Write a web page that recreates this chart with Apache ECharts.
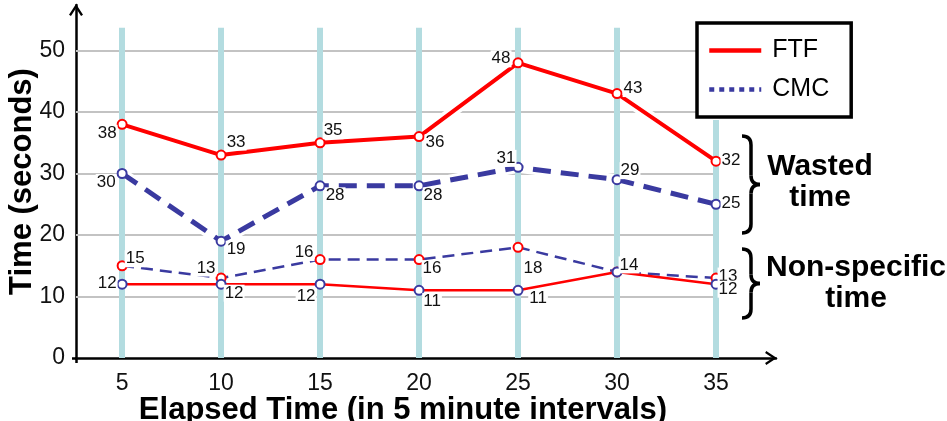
<!DOCTYPE html>
<html>
<head>
<meta charset="utf-8">
<script src="https://cdn.jsdelivr.net/npm/echarts@6/dist/echarts.min.js"></script>
<style>
  html, body { margin: 0; padding: 0; background: #fff; }
  #chart { width: 947px; height: 421px; }
</style>
</head>
<body>
<div id="chart"></div>
<script>
// Elapsed time points (minutes)
const minutes = [5, 10, 15, 20, 25, 30, 35];
// Y tick labels
const yTicks = [0, 10, 20, 30, 40, 50];

// Wasted time
const ftfWasted = [38, 33, 35, 36, 48, 43, 32];
const cmcWasted = [30, 19, 28, 28, 31, 29, 25];
// Non-specific time
const ftfNonSpecific = [15, 13, 16, 16, 18, 14, 13];
const cmcNonSpecific = [12, 12, 12, 11, 11, 14, 12];

// Label offsets (px) relative to each marker, per series
const ftfWastedLabelOff = [[-15, 9], [15, -13], [13, -12], [16, 6], [-17, -4], [16, -5], [15, -1]];
const cmcWastedLabelOff = [[-16, 9], [15, 8], [15, 10], [14, 10], [-12, -9], [13, -9], [15, -1]];
const ftfNonLabelOff = [[13, -7], [-15, -10], [-16, -7], [13, 9], [15, 21], [12, -7], [12, -2]];
const cmcNonLabelOff = [[-15, -1], [13, 9], [-14, 12], [13, 11], [20, 8], null, [12, 5]];

const RED = '#ff0000';
const BLUE = '#3a3aa0';
const BAR = '#b3dce0';
const FONT = '"Liberation Sans", Arial, sans-serif';

const X_MIN = 2.67, X_MAX = 38.03;
const Y_MAX = 57.4, BAR_TOP = 53.7, LAST_BAR_TOP = 38.7;

function points(values, offsets) {
  return values.map((v, i) => {
    const item = { value: [minutes[i], v] };
    const off = offsets[i];
    item.label = off
      ? { show: true, position: 'inside', offset: off }
      : { show: false };
    return item;
  });
}

const labelStyle = {
  fontFamily: FONT, fontSize: 17, color: '#111',
  backgroundColor: '#fff', padding: [0, 1]
};

function halo(values, width) {
  return {
    type: 'line', silent: true, z: 2, symbol: 'none',
    data: values.map((v, i) => [minutes[i], v]),
    lineStyle: { color: '#fff', width: width },
    emphasis: { disabled: true }, tooltip: { show: false }
  };
}

// curly brace "}" built from quadratic curves and straight strokes
function brace(x, y, h) {
  const m = h / 2, r = 9, w = 9, tip = 18;
  const st = { stroke: '#000', lineWidth: 3.5, fill: null };
  const q = (x1, y1, cx, cy, x2, y2) => ({
    type: 'bezierCurve',
    shape: { x1: x1, y1: y1, cpx1: cx, cpy1: cy, x2: x2, y2: y2 },
    style: st
  });
  const l = (x1, y1, x2, y2) => ({
    type: 'line', shape: { x1: x1, y1: y1, x2: x2, y2: y2 }, style: st
  });
  return {
    type: 'group', x: x, y: y, z: 10,
    children: [
      q(0, 0, w, 0, w, r),
      l(w, r, w, m - r),
      q(w, m - r, w, m, tip, m),
      q(tip, m, w, m, w, m + r),
      l(w, m + r, w, h - r),
      q(w, h - r, w, h, 0, h)
    ]
  };
}

const chart = echarts.init(document.getElementById('chart'), null, { renderer: 'canvas' });

const arrow = 'path://M5,0 L10,7.6 L8.6,8.4 L5,3 L1.4,8.4 L0,7.6 Z';

chart.setOption({
  animation: false,
  backgroundColor: '#fff',
  textStyle: { fontFamily: FONT },
  grid: { left: 76, right: 171, top: 5, bottom: 63, outerBoundsMode: 'none', containLabel: false },
  legend: {
    orient: 'vertical', left: 697, top: 23,
    backgroundColor: '#fff',
    borderColor: '#000', borderWidth: 3.5, borderRadius: 0,
    padding: [15, 22, 15, 10],
    itemWidth: 52, itemHeight: 22, itemGap: 14,
    textStyle: { fontFamily: FONT, fontSize: 25, color: '#000', padding: [0, 0, 0, 6] },
    itemStyle: { opacity: 0 },
    data: [
      { name: 'FTF', lineStyle: { color: RED, width: 4.5, type: 'solid' } },
      { name: 'CMC', lineStyle: { color: BLUE, width: 4.5, type: [5, 5] } }
    ]
  },
  xAxis: {
    type: 'value', min: X_MIN, max: X_MAX,
    axisLine: {
      show: true, onZero: false,
      lineStyle: { color: '#000', width: 2.5 },
      symbol: ['none', arrow], symbolSize: [14, 12], symbolOffset: [0, -5]
    },
    // short stub of the vertical axis below the origin
    axisTick: {
      show: true, customValues: [X_MIN], length: 5,
      lineStyle: { color: '#000', width: 2.5 }
    },
    splitLine: { show: false },
    axisLabel: {
      customValues: minutes, margin: 14,
      fontFamily: FONT, fontSize: 23, color: '#111'
    },
    name: 'Elapsed Time (in 5 minute intervals)',
    nameLocation: 'middle', nameGap: 37, nameMoveOverlap: false,
    nameTextStyle: {
      fontFamily: FONT, fontSize: 31, fontWeight: 'bold', color: '#000',
      padding: [0, 46, 0, 0]
    }
  },
  yAxis: {
    type: 'value', min: 0, max: Y_MAX,
    axisLine: {
      show: true, onZero: false,
      lineStyle: { color: '#000', width: 2.5 },
      symbol: ['none', arrow], symbolSize: [14, 12], symbolOffset: [0, -5]
    },
    // short stub of the horizontal axis left of the origin
    axisTick: {
      show: true, customValues: [0], length: 4,
      lineStyle: { color: '#000', width: 2.5 }
    },
    splitLine: { show: false },
    axisLabel: {
      customValues: yTicks, margin: 11,
      fontFamily: FONT, fontSize: 23, color: '#111'
    },
    name: 'Time (seconds)',
    nameLocation: 'middle', nameGap: 38, nameMoveOverlap: false,
    nameTextStyle: {
      fontFamily: FONT, fontSize: 31, fontWeight: 'bold', color: '#000'
    }
  },
  series: [
    // horizontal gridlines
    {
      type: 'line', data: [], silent: true, z: 1,
      markLine: {
        silent: true, symbol: 'none', z: 1, label: { show: false },
        lineStyle: { color: '#c3c3c3', width: 2, type: 'solid' },
        emphasis: { disabled: true },
        data: yTicks.filter(v => v > 0).map(v => [
          { coord: [X_MIN, v] }, { coord: [minutes[minutes.length - 1], v] }
        ])
      }
    },
    halo(ftfWasted, 11),
    halo(cmcWasted, 11),
    halo(ftfNonSpecific, 7),
    halo(cmcNonSpecific, 7),
    // vertical time bands
    {
      type: 'line', data: [], silent: true, z: 3,
      markLine: {
        silent: true, symbol: 'none', z: 3, label: { show: false },
        lineStyle: { color: BAR, width: 6, type: 'solid' },
        emphasis: { disabled: true },
        data: minutes.map((m, i) => [
          { coord: [m, 0] },
          { coord: [m, i === minutes.length - 1 ? LAST_BAR_TOP : BAR_TOP] }
        ])
      }
    },
    {
      name: 'FTF', type: 'line', z: 5,
      data: points(ftfWasted, ftfWastedLabelOff),
      symbol: 'circle', symbolSize: 9,
      itemStyle: { color: '#fff', borderColor: RED, borderWidth: 2 },
      lineStyle: { color: RED, width: 4 },
      label: labelStyle
    },
    {
      name: 'CMC', type: 'line', z: 5,
      data: points(cmcWasted, cmcWastedLabelOff),
      symbol: 'circle', symbolSize: 9,
      itemStyle: { color: '#fff', borderColor: BLUE, borderWidth: 2 },
      lineStyle: { color: BLUE, width: 5, type: [18, 10] },
      label: labelStyle
    },
    {
      name: 'FTF non-specific', type: 'line', z: 5,
      data: points(ftfNonSpecific, ftfNonLabelOff),
      symbol: 'circle', symbolSize: 9,
      itemStyle: { color: '#fff', borderColor: RED, borderWidth: 2 },
      lineStyle: { color: BLUE, width: 2.5, type: [12, 7] },
      label: labelStyle
    },
    {
      name: 'CMC non-specific', type: 'line', z: 5,
      data: points(cmcNonSpecific, cmcNonLabelOff),
      symbol: 'circle', symbolSize: 9,
      itemStyle: { color: '#fff', borderColor: BLUE, borderWidth: 2 },
      lineStyle: { color: RED, width: 2.5 },
      label: labelStyle
    }
  ],
  graphic: [
    brace(742, 136, 97),
    brace(742, 249, 69),
    {
      type: 'text', z: 10, x: 820, y: 182,
      style: {
        text: 'Wasted\ntime', fontFamily: FONT, fontSize: 30, fontWeight: 'bold',
        fill: '#000', align: 'center', verticalAlign: 'middle', lineHeight: 31
      }
    },
    {
      type: 'text', z: 10, x: 856, y: 283,
      style: {
        text: 'Non-specific\ntime', fontFamily: FONT, fontSize: 30, fontWeight: 'bold',
        fill: '#000', align: 'center', verticalAlign: 'middle', lineHeight: 31
      }
    }
  ]
});
</script>
</body>
</html>
